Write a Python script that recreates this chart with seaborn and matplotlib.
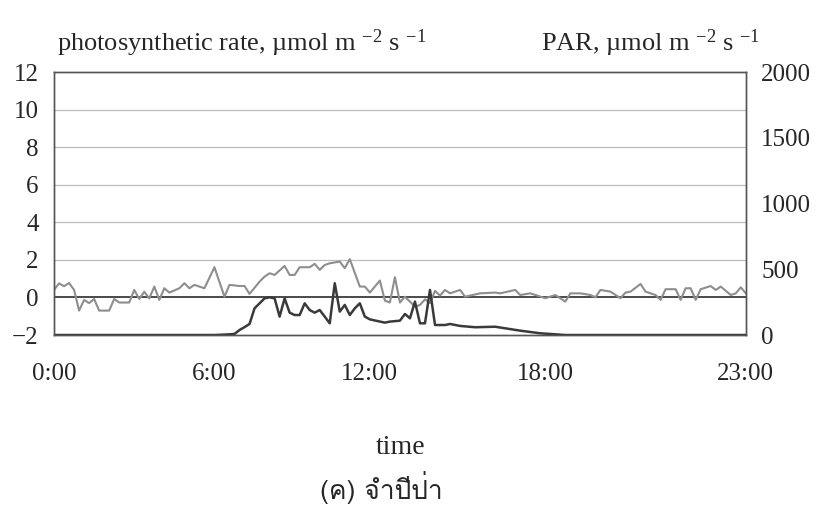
import matplotlib
matplotlib.use("Agg")
import matplotlib.pyplot as plt
from matplotlib import font_manager
from matplotlib.ft2font import FT2Font
import seaborn as sns

# photosynthetic rate (left axis), sample number -> value
photo_idx = [0, 1, 2, 3, 4, 5, 6, 7, 8, 9, 11, 12, 13, 15, 16, 17, 18, 19, 20, 21,
             22, 23, 25, 26, 27, 28, 30, 32, 34, 35, 37, 38, 39, 41, 42, 43, 44, 46, 47, 48,
             49, 51, 52, 53, 54, 55, 57, 58, 59, 61, 62, 63, 65, 66, 67, 68, 69, 70, 71, 72,
             73, 74, 75, 76, 77, 78, 79, 81, 82, 85, 88, 89, 92, 93, 95, 98, 100, 102, 103, 105,
             107, 108, 109, 111, 113, 114, 115, 117, 118, 120, 121, 122, 124, 125, 126, 127, 128, 129, 131, 132,
             133, 135, 136, 137, 138]
photo_val = [0.40, 0.75, 0.60, 0.77, 0.40, -0.70, -0.13, -0.30, -0.08, -0.70, -0.70, -0.08, -0.27, -0.27, 0.40, -0.08, 0.30, -0.05, 0.58, -0.13,
             0.49, 0.26, 0.49, 0.76, 0.49, 0.67, 0.49, 1.61, 0.04, 0.67, 0.61, 0.61, 0.19, 0.84, 1.11, 1.29, 1.20, 1.68, 1.20, 1.20,
             1.61, 1.61, 1.79, 1.47, 1.73, 1.82, 1.91, 1.56, 2.04, 0.58, 0.58, 0.26, 0.90, -0.17, -0.27, 1.08, -0.27, 0.04, -0.22, -0.49,
             -0.40, -0.10, -0.30, 0.35, 0.10, 0.40, 0.22, 0.40, 0.04, 0.22, 0.26, 0.22, 0.40, 0.13, 0.22, -0.04, 0.13, -0.22, 0.22, 0.22,
             0.13, 0.01, 0.40, 0.31, -0.04, 0.26, 0.31, 0.72, 0.31, 0.13, -0.13, 0.44, 0.44, -0.13, 0.49, 0.49, -0.13, 0.44, 0.61, 0.40,
             0.58, 0.13, 0.22, 0.54, 0.22]

# PAR (right axis)
par_idx = [0, 32, 34, 36, 37, 38, 39, 40, 41, 42, 43, 44, 45, 46, 47, 48, 49, 50, 51, 52,
           53, 54, 55, 56, 57, 58, 59, 60, 61, 62, 63, 66, 67, 69, 70, 71, 72, 73, 74, 75,
           76, 78, 79, 81, 84, 88, 90, 93, 97, 102, 138]
par_val = [0, 0, 3, 8, 38, 60, 84, 203, 241, 279, 287, 279, 140, 279, 170, 152, 152, 241, 190, 170,
           190, 140, 89, 394, 178, 229, 152, 203, 241, 140, 119, 94, 102, 109, 160, 127, 254, 89, 89, 343,
           76, 76, 84, 69, 59, 63, 51, 33, 13, 0, 0]

tick_idx = [0, 32, 63, 98, 138]
tick_lbl = ["0:00", "6:00", "12:00", "18:00", "23:00"]


def thai_font():
    for f in font_manager.fontManager.ttflist:
        try:
            if 0x0E08 in FT2Font(f.fname).get_charmap():
                return f.name
        except Exception:
            pass
    return "DejaVu Sans"


sns.set_style("white")
plt.rcParams["font.family"] = ["Liberation Serif", "DejaVu Serif"]
plt.rcParams["mathtext.fontset"] = "custom"
plt.rcParams["mathtext.rm"] = "Liberation Serif"
plt.rcParams["mathtext.it"] = "Liberation Serif:italic"

fig = plt.figure(figsize=(8.25, 5.12), dpi=100)
ax = fig.add_axes([0.0655, 0.3457, 0.8385, 0.5133])
ax2 = ax.twinx()

for y in [2, 4, 6, 8, 10]:
    ax.axhline(y, color="#bcbcbc", lw=0.9, zorder=0)
ax.axhline(0, color="#4a4a4a", lw=1.4, zorder=1)

sns.lineplot(x=photo_idx, y=photo_val, ax=ax, color="#8e8e8e", lw=1.5)
sns.lineplot(x=par_idx, y=par_val, ax=ax2, color="#3a3a3a", lw=1.8)

ax.set_xlim(0, 138)
ax.set_ylim(-2, 12)
ax2.set_ylim(0, 2000)
ax.set_yticks(range(-2, 13, 2))
ax2.set_yticks(range(0, 2001, 500))
ax.set_xticks(tick_idx, tick_lbl)
ax.set_xlabel("")
ax.set_ylabel("")
ax2.set_ylabel("")
ax.tick_params(axis="y", length=0, labelsize=18, pad=11)
ax.tick_params(axis="x", length=0, labelsize=18, pad=20)
ax2.tick_params(axis="y", length=0, labelsize=18, pad=11)
for a in (ax, ax2):
    for s in a.spines.values():
        s.set_color("#555555")
        s.set_linewidth(1.0)

fig.text(57 / 825, 1 - 43 / 512, r"photosynthetic rate, µmol m $^{-2}$ s $^{-1}$",
         fontsize=19, ha="left", va="center")
fig.text(760 / 825, 1 - 43 / 512, r"PAR, µmol m $^{-2}$ s $^{-1}$",
         fontsize=19, ha="right", va="center")
fig.text(401 / 825, 1 - 448 / 512, "time", fontsize=20, ha="center", va="center")
fig.text(381 / 825, 1 - 488 / 512, "(ค) จำปีป่า", fontsize=19, ha="center", va="center",
         family=[thai_font(), "Liberation Serif"])

fig.savefig("out.png", dpi=100)
